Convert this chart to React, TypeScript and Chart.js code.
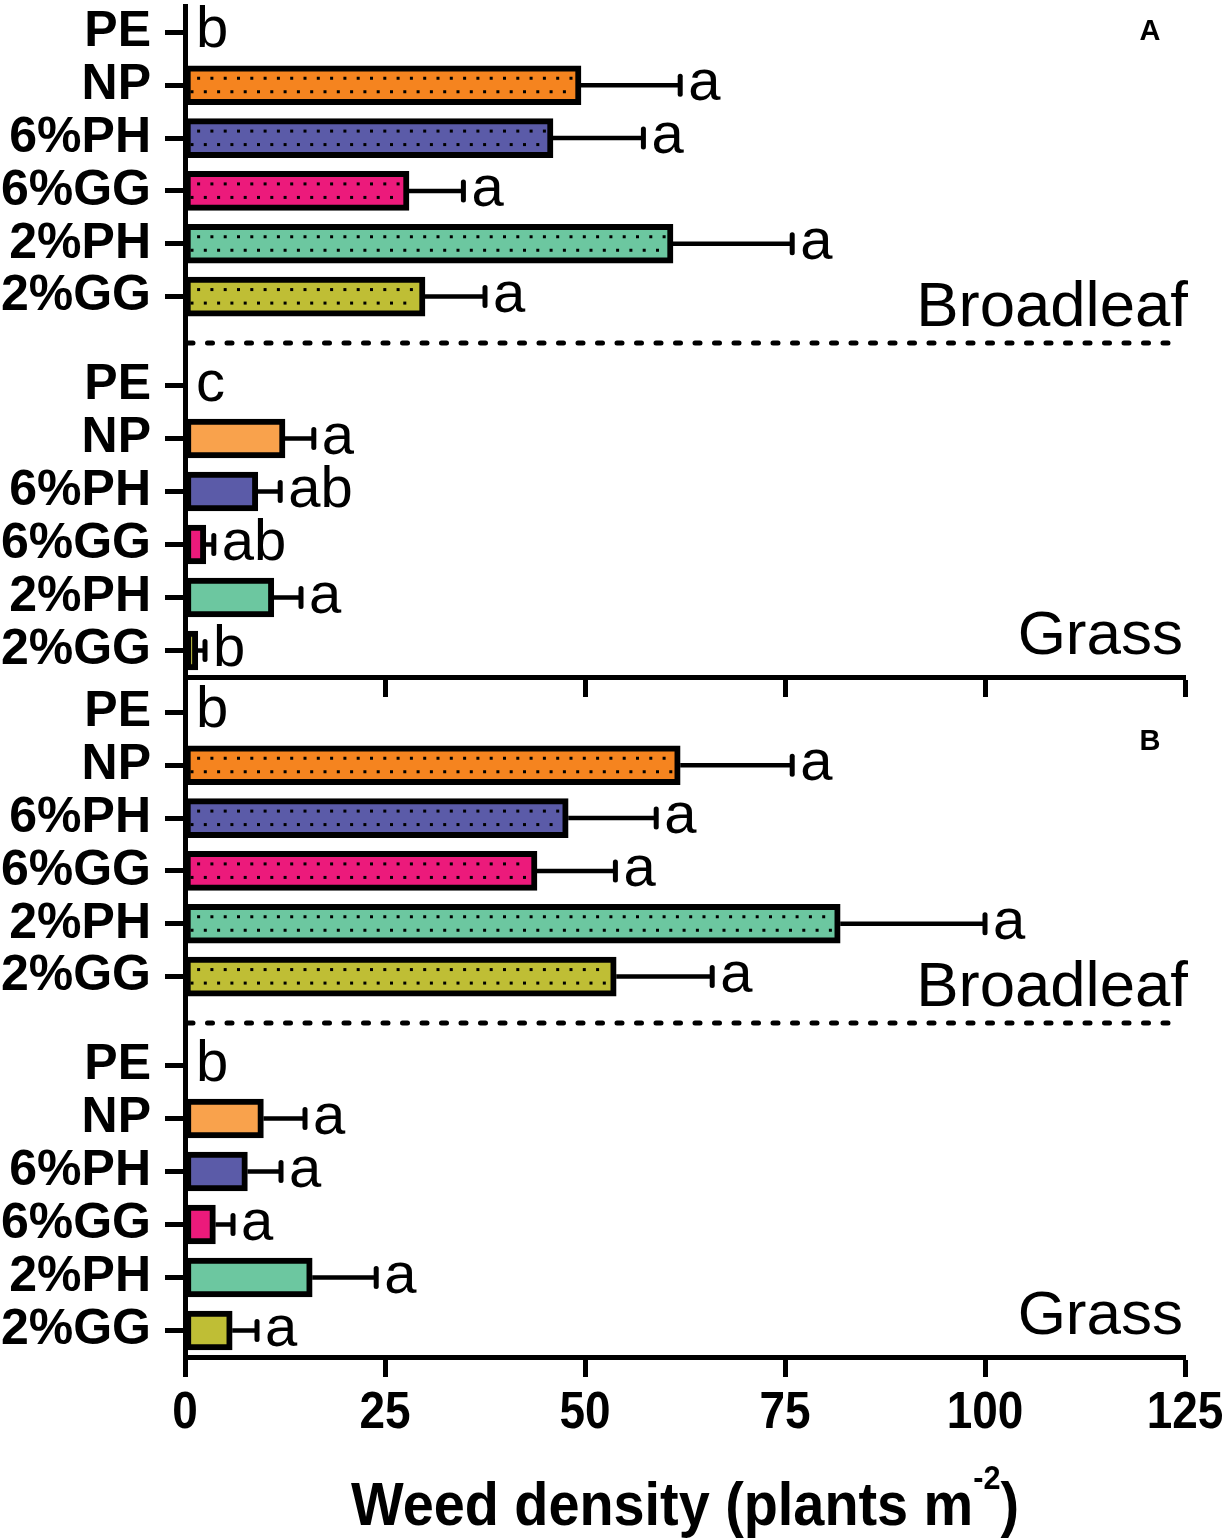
import { useEffect, useRef } from "react"
import { Chart, registerables } from "chart.js"

Chart.register(...registerables)

const SANS = "'Liberation Sans', Arial, sans-serif"

// treatments, top to bottom
const treatments = ["PE", "NP", "6%PH", "6%GG", "2%PH", "2%GG"]

// panel A
const broadleafA = [0, 49.5, 46, 28, 61, 30]
const broadleafAErr = [0, 12.4, 11.3, 6.8, 14.9, 7.5]
const broadleafALetters = ["b", "a", "a", "a", "a", "a"]
const grassA = [0, 12.5, 9.1, 2.6, 11.1, 1.6]
const grassAErr = [0, 3.6, 2.8, 1.0, 3.4, 0.9]
const grassALetters = ["c", "a", "ab", "ab", "a", "b"]

// panel B
const broadleafB = [0, 61.9, 47.9, 44, 81.9, 53.9]
const broadleafBErr = [0, 14, 11, 9.8, 18.1, 12]
const broadleafBLetters = ["b", "a", "a", "a", "a", "a"]
const grassB = [0, 9.8, 7.8, 3.8, 15.9, 5.9]
const grassBErr = [0, 5.2, 4.2, 2.2, 8, 3.1]
const grassBLetters = ["b", "a", "a", "a", "a", "a"]

const broadleafColors = ["#F5841F", "#F5841F", "#5B5BA8", "#EC1A7B", "#6CC7A0", "#BFBE35"]
const grassColors = ["#F9A24C", "#F9A24C", "#5B5BA8", "#EC1A7B", "#6CC7A0", "#BFBE35"]

type GroupProps = {
  kind: "broadleaf" | "grass"
  panel?: string
  panelLabelOffset?: number
  values: number[]
  errs: number[]
  letters: string[]
  colors: string[]
  top: number
  height: number
  padTop: number
  padBottom: number
  xAxisHeight: number
  showXAxis: boolean
  showXLabels: boolean
}

function Group(props: GroupProps) {
  const chartRef = useRef<HTMLCanvasElement>(null)
  const chartInstance = useRef<Chart | null>(null)

  useEffect(() => {
    if (!chartRef.current) return
    if (chartInstance.current) chartInstance.current.destroy()

    const { values, errs, letters } = props
    const broad = props.kind === "broadleaf"

    const overlay = {
      id: "overlay",
      afterDatasetsDraw(chart: any) {
        const ctx = chart.ctx
        const xs = chart.scales.x
        const area = chart.chartArea
        const meta = chart.getDatasetMeta(0)
        ctx.save()

        values.forEach((v, i) => {
          const bar = meta.data[i]
          const { x, y, base } = bar.getProps(["x", "y", "base"], true)

          // dotted fill on broadleaf bars
          if (broad && v > 0) {
            ctx.fillStyle = "#000"
            const step = 13.3
            const l = base + 7
            const r = x - 8
            for (let px = l + 6.6; px < r; px += step) ctx.fillRect(px - 1.5, y - 8.5, 3, 3)
            for (let px = l; px < r; px += step) ctx.fillRect(px - 1.5, y + 5, 3, 3)
          }

          // error bar
          const e = errs[i]
          const xe = xs.getPixelForValue(v + e)
          if (e > 0) {
            ctx.strokeStyle = "#000"
            ctx.lineWidth = 4.5
            ctx.lineCap = "butt"
            ctx.beginPath()
            ctx.moveTo(x, y)
            ctx.lineTo(xe, y)
            ctx.stroke()
            ctx.lineWidth = 5
            ctx.lineCap = "round"
            ctx.beginPath()
            ctx.moveTo(xe, y - 9)
            ctx.lineTo(xe, y + 9)
            ctx.stroke()
          }

          // significance letters
          ctx.fillStyle = "#000"
          ctx.font = `58px ${SANS}`
          ctx.textAlign = "left"
          ctx.textBaseline = "alphabetic"
          ctx.fillText(letters[i], e > 0 ? xe + 8 : xe + 11, y + 15)
        })

        ctx.fillStyle = "#000"
        ctx.strokeStyle = "#000"
        if (broad) {
          // y axis continues down to the grass group
          const bx = chart.scales.y._borderValue ?? area.left
          ctx.lineWidth = 5
          ctx.lineCap = "butt"
          ctx.beginPath()
          ctx.moveTo(bx, area.bottom - 2)
          ctx.lineTo(bx, chart.height)
          ctx.stroke()

          // dashed separator between broadleaf and grass
          const sepY = area.bottom + 20
          ctx.lineCap = "round"
          ctx.setLineDash([5, 14.5])
          ctx.beginPath()
          ctx.moveTo(area.left + 3, sepY)
          ctx.lineTo(area.right - 3, sepY)
          ctx.stroke()
          ctx.setLineDash([])

          ctx.font = `63.5px ${SANS}`
          ctx.textAlign = "right"
          ctx.textBaseline = "alphabetic"
          ctx.fillText("Broadleaf", area.right + 3, sepY - 17)

          // panel letter
          ctx.font = `bold 29px ${SANS}`
          ctx.textAlign = "center"
          ctx.textBaseline = "middle"
          ctx.fillText(props.panel || "", area.right - 35, area.top + (props.panelLabelOffset || 26))
        } else {
          ctx.font = `62px ${SANS}`
          ctx.textAlign = "right"
          ctx.textBaseline = "alphabetic"
          ctx.fillText("Grass", area.right - 2, area.bottom - 23)
        }

        if (props.showXLabels) {
          // x tick labels, slightly condensed
          ctx.font = `bold 51px ${SANS}`
          ctx.textAlign = "center"
          ctx.textBaseline = "middle"
          xs.ticks.forEach((t: any) => {
            const px = xs.getPixelForValue(t.value)
            ctx.save()
            ctx.translate(px, area.bottom + 57)
            ctx.scale(0.9, 1)
            ctx.fillText(String(t.value), 0, 0)
            ctx.restore()
          })

          // axis title with superscript
          const main = "Weed density (plants m"
          const sup = "-2"
          const close = ")"
          const sx = 0.9
          ctx.textBaseline = "alphabetic"
          ctx.textAlign = "left"
          ctx.font = `bold 62px ${SANS}`
          const w1 = ctx.measureText(main).width
          const w3 = ctx.measureText(close).width
          ctx.font = `bold 34px ${SANS}`
          const w2 = ctx.measureText(sup).width
          const cx = (area.left + area.right) / 2
          const total = (w1 + w2 + w3) * sx
          ctx.save()
          ctx.translate(cx - total / 2, area.bottom + 168)
          ctx.scale(sx, 1)
          ctx.font = `bold 62px ${SANS}`
          ctx.fillText(main, 0, 0)
          ctx.font = `bold 34px ${SANS}`
          ctx.fillText(sup, w1, -36)
          ctx.font = `bold 62px ${SANS}`
          ctx.fillText(close, w1 + w2, 0)
          ctx.restore()
        }
        ctx.restore()
      },
    }

    chartInstance.current = new Chart(chartRef.current, {
      type: "bar",
      data: {
        labels: treatments,
        datasets: [
          {
            data: values,
            backgroundColor: props.colors,
            borderColor: "#000",
            borderWidth: 6,
            borderSkipped: false,
            barThickness: 39,
          },
        ],
      },
      options: {
        indexAxis: "y",
        responsive: false,
        animation: false,
        layout: { padding: { top: props.padTop, right: 42, left: 0, bottom: props.padBottom } },
        plugins: { legend: { display: false }, tooltip: { enabled: false } },
        scales: {
          x: {
            type: "linear",
            display: props.showXAxis,
            min: 0,
            max: 125,
            afterFit: (scale: any) => {
              scale.height = props.xAxisHeight
              scale.paddingLeft = 0
              scale.paddingRight = 0
            },
            ticks: { stepSize: 25, display: false, autoSkip: false },
            grid: { drawOnChartArea: false, tickLength: 20, tickWidth: 5, tickColor: "#000" },
            border: { color: "#000", width: 5 },
          },
          y: {
            type: "category",
            afterFit: (scale: any) => {
              scale.width = 185
              scale.paddingTop = 0
              scale.paddingBottom = 0
            },
            ticks: {
              autoSkip: false,
              color: "#000",
              padding: 14,
              font: { family: SANS, size: 50, weight: "bold" },
            },
            grid: {
              offset: false,
              drawOnChartArea: false,
              tickLength: 20,
              tickWidth: 5,
              tickColor: "#000",
            },
            border: { color: "#000", width: 5 },
          },
        },
      },
      plugins: [overlay],
    } as any)

    return () => {
      if (chartInstance.current) {
        chartInstance.current.destroy()
        chartInstance.current = null
      }
    }
  }, [])

  return (
    <canvas
      ref={chartRef}
      width={1227}
      height={props.height}
      style={{ position: "absolute", left: 0, top: props.top, width: 1227, height: props.height }}
    />
  )
}

type PanelProps = {
  panel: string
  broad: number[]
  broadErr: number[]
  broadLetters: string[]
  grass: number[]
  grassErr: number[]
  grassLetters: string[]
  top: number
  grassHeight: number
  xAxisHeight: number
  showXLabels: boolean
  panelLabelOffset: number
}

function Panel(p: PanelProps) {
  return (
    <>
      <Group
        kind="grass"
        values={p.grass}
        errs={p.grassErr}
        letters={p.grassLetters}
        colors={grassColors}
        top={p.top + 340}
        height={p.grassHeight}
        padTop={19}
        padBottom={0}
        xAxisHeight={p.xAxisHeight}
        showXAxis={true}
        showXLabels={p.showXLabels}
      />
      <Group
        kind="broadleaf"
        panel={p.panel}
        panelLabelOffset={p.panelLabelOffset}
        values={p.broad}
        errs={p.broadErr}
        letters={p.broadLetters}
        colors={broadleafColors}
        top={p.top}
        height={360}
        padTop={6}
        padBottom={37}
        xAxisHeight={0}
        showXAxis={false}
        showXLabels={false}
      />
    </>
  )
}

export default function App() {
  return (
    <div style={{ position: "absolute", left: 0, top: 0, width: 1227, height: 1538, background: "#fff" }}>
      <Panel
        panel="A"
        broad={broadleafA}
        broadErr={broadleafAErr}
        broadLetters={broadleafALetters}
        grass={grassA}
        grassErr={grassAErr}
        grassLetters={grassALetters}
        top={0}
        grassHeight={360}
        xAxisHeight={23}
        showXLabels={false}
        panelLabelOffset={26}
      />
      <Panel
        panel="B"
        broad={broadleafB}
        broadErr={broadleafBErr}
        broadLetters={broadleafBLetters}
        grass={grassB}
        grassErr={grassBErr}
        grassLetters={grassBLetters}
        top={680}
        grassHeight={518}
        xAxisHeight={181}
        showXLabels={true}
        panelLabelOffset={56}
      />
    </div>
  )
}
